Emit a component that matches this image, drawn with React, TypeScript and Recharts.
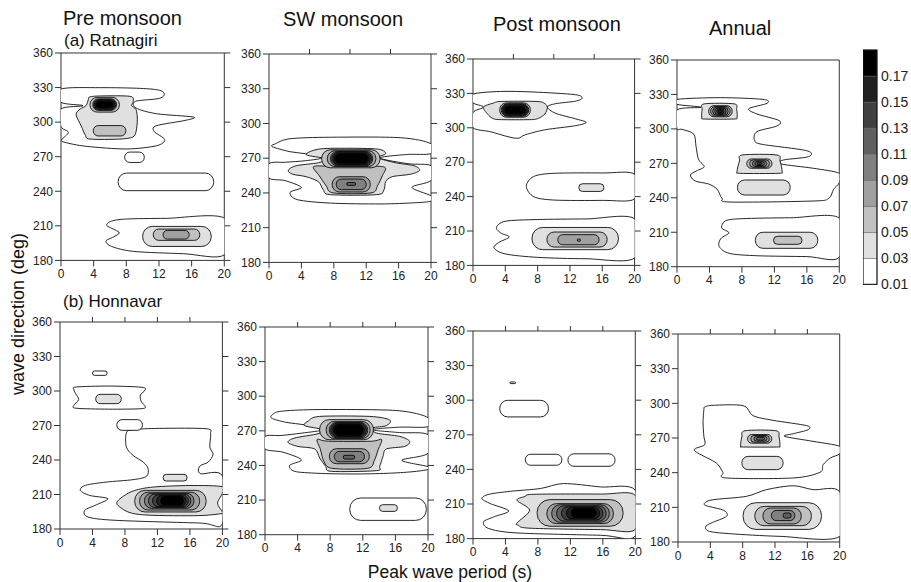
import React from 'react';
import { ScatterChart, Scatter, XAxis, YAxis } from 'recharts';

type XY = [number, number];
type Contour = { lv: number; pts: XY[] };
// [level, period from, period to, direction from, direction to]
type Ring = [number, number, number, number, number];

const periodTicks = [0, 4, 8, 12, 16, 20];
const directionTicks = [180, 210, 240, 270, 300, 330, 360];
const topTicksFive = [5, 10, 15];
const topTicksFour = [4, 8, 12, 16];
const levelTicks = [0.01, 0.03, 0.05, 0.07, 0.09, 0.11, 0.13, 0.15, 0.17];
const shades = ['#ffffff', '#e0e0e0', '#c0c0c0', '#a0a0a0', '#808080', '#606060', '#404040', '#202020', '#000000'];

// ---- (a) Ratnagiri ----
const preRatLines: Contour[] = [
  { lv: 0.01, pts: [[0, 328.7], [4.8, 329.9], [9.7, 329.3], [12.1, 327.6], [12.65, 323.8], [11.9, 320.4], [9.1, 318], [9.2, 312.2], [11.7, 307.3], [16.2, 304.4], [15.2, 301.5], [11.7, 296.9], [11.4, 292], [12.7, 284.8], [11.7, 279.5], [8.0, 276.7], [3.1, 279], [0.5, 282.4], [0.1, 284.8], [0.9, 291.1], [0, 296.3], [0, 311.4], [2.7, 314.3], [0, 317.2]] },
  { lv: 0.03, pts: [[3.06, 314.3], [3.35, 319.5], [3.5, 321.8], [4.8, 322.7], [8.45, 322.4], [8.85, 318], [8.65, 314.3], [9.2, 310.8], [9.35, 302.1], [9.2, 292], [8.8, 287.1], [7.2, 285.3], [3.55, 285.3], [2.95, 289.1], [2.5, 296.3], [1.85, 306.5], [2.35, 311.4]] },
  { lv: 0.01, pts: [[20, 216.7], [12.9, 216.5], [8.0, 215.9], [6.2, 214.1], [5.6, 210.4], [6.6, 206.6], [7.15, 203.7], [6.4, 200.2], [5.5, 196.8], [6.2, 192.1], [8.9, 187.8], [15, 185.8], [20, 184.9]] },
];
const preRatRings: Ring[] = [
  [0.01, 7.8, 10.2, 265, 274], [0.01, 7.0, 18.7, 240.5, 255.8],
  [0.05, 3.95, 7.95, 288, 297],
  [0.05, 3.55, 7.15, 308.7, 321.5], [0.07, 3.9, 6.8, 310.2, 320.2], [0.09, 4.0, 6.7, 310.8, 319.6],
  [0.11, 4.1, 6.6, 311.4, 319.0], [0.13, 4.2, 6.5, 312.0, 318.4], [0.15, 4.3, 6.4, 312.6, 317.8],
  [0.17, 4.4, 6.3, 313.2, 317.2], [0.19, 4.8, 5.9, 314.0, 316.4],
  [0.03, 10, 18.4, 192.1, 209.5], [0.05, 11.3, 17.0, 197.4, 207.2], [0.07, 12.5, 15.7, 198.5, 206.0],
];

const swRatLines: Contour[] = [
  { lv: 0.01, pts: [[20, 282.5], [16.2, 287.7], [7.6, 288.1], [2.6, 286.8], [0.8, 282.5], [0.4, 280], [2.6, 275.6], [4.5, 273.9], [6.6, 270.4], [4.5, 267.8], [2.0, 266.5], [0, 265.3], [0, 252.9], [2.0, 250.6], [4.0, 244.8], [2.6, 240.5], [3.5, 234.2], [7.6, 231.2], [13.8, 230.5], [18.0, 231.5], [20, 233], [20, 237.5], [17.65, 244.8], [20, 250.8], [20, 263.5], [17.2, 265.2], [13.7, 270.2], [17.0, 273.2], [20, 274]] },
  { lv: 0.03, pts: [[2.38, 259.6], [3.37, 263.5], [6.09, 266.1], [6.95, 269.6], [4.6, 273], [6.09, 277.8], [9.42, 278.6], [13.5, 277.8], [14.4, 273.9], [13.5, 270.4], [15.6, 266.1], [17.9, 263.5], [18.6, 259.6], [17.5, 256.2], [15.2, 254], [14.4, 249.7], [14.2, 242.8], [13.3, 238.5], [7.57, 238.5], [6.7, 242.8], [6.1, 249.7], [4.6, 254], [2.9, 256.2]] },
  { lv: 0.05, pts: [[5.5, 262.7], [7.6, 263.1], [12.75, 263.1], [14.35, 261.8], [14.0, 254.9], [13.4, 246.3], [12.6, 240], [7.95, 240], [7.05, 246.3], [6.2, 254.9]] },
];
const swRatRings: Ring[] = [
  [0.05, 6.5, 13.7, 261.7, 277.3], [0.07, 7.2, 13.2, 262.8, 276.4], [0.09, 7.6, 12.8, 263.4, 275.8],
  [0.11, 7.75, 12.65, 264.0, 275.2], [0.13, 7.9, 12.5, 264.6, 274.6], [0.15, 8.05, 12.35, 265.2, 274.0],
  [0.17, 8.2, 12.2, 265.8, 273.4], [0.19, 8.8, 11.6, 266.8, 272.4], [0.21, 9.5, 10.9, 268.0, 271.4],
  [0.07, 7.8, 12.5, 240.8, 254.0], [0.09, 8.3, 12.0, 242.8, 252.0], [0.11, 9.6, 10.7, 246.5, 249.0],
];

const postRatLines: Contour[] = [
  { lv: 0.01, pts: [[0, 329.3], [3.4, 331.7], [7.5, 331.2], [12.65, 328.9], [13.5, 325.8], [12.65, 323.2], [10.2, 321], [9.2, 318.1], [10.2, 312.7], [12.65, 307.9], [14, 304.7], [12.65, 301.8], [8.95, 298.3], [6.5, 294], [5.6, 290.9], [4.35, 292.2], [2.15, 296.6], [0, 300.1], [0, 313.2], [1.3, 318.1], [0, 321.8]] },
  { lv: 0.03, pts: [[1.3, 318.1], [2.5, 321.5], [3.5, 323], [7.8, 323], [8.8, 321.5], [9.2, 318.1], [8.9, 312], [8.0, 308], [7.0, 307.1], [3.5, 307.1], [2.5, 308], [1.8, 312]] },
  { lv: 0.01, pts: [[20, 259.5], [16, 260.6], [10, 260.3], [7.5, 257.5], [6.6, 249], [7.5, 240], [10, 237], [16, 236.7], [20, 238]] },
  { lv: 0.01, pts: [[20, 220.6], [14, 220.5], [8, 220], [4, 218.5], [2.9, 213], [3.5, 208], [4.5, 204.8], [3.2, 200], [2.6, 195.2], [4, 190], [8, 187], [14, 185.8], [20, 186.5]] },
];
const postRatRings: Ring[] = [
  [0.05, 3.3, 7.1, 309.2, 321.8], [0.07, 3.5, 6.9, 310.0, 321.0], [0.09, 3.6, 6.8, 310.6, 320.4],
  [0.11, 3.7, 6.7, 311.2, 319.8], [0.13, 3.8, 6.6, 311.8, 319.2], [0.15, 3.9, 6.5, 312.4, 318.6],
  [0.17, 4.0, 6.4, 313.0, 318.0], [0.19, 4.4, 6.0, 313.8, 317.2], [0.21, 4.8, 5.6, 314.6, 316.4],
  [0.03, 13.1, 16.2, 244.5, 251.2],
  [0.03, 7.3, 18.0, 193.7, 213.1], [0.05, 9.15, 16.6, 196.0, 209.1], [0.07, 10.5, 15.6, 198.0, 206.8],
  [0.09, 12.9, 13.3, 201, 203],
];

const annRatLines: Contour[] = [
  { lv: 0.01, pts: [[0, 325.7], [5.34, 327.2], [10.6, 325.7], [11.1, 322.3], [8.85, 317.6], [9.85, 313], [12.6, 307.2], [12.3, 302.5], [9.85, 297.6], [9.55, 290.3], [10.45, 286.6], [16, 281], [16.2, 275.8], [13.1, 272.9], [12.9, 269.4], [16.8, 265.7], [20, 261.3], [20, 253.2], [19.3, 247.4], [18.7, 239.5], [16.8, 237.2], [6.55, 236.3], [5.55, 239.5], [4.95, 247.4], [3.9, 252], [2.25, 254.6], [1.65, 259.8], [2.45, 263.6], [3.35, 267.1], [2.65, 273.5], [2.35, 284.5], [2.05, 295.6], [0.6, 299.6], [0, 300.5], [0, 316.5], [2.95, 318.8], [0, 321.4]] },
  { lv: 0.03, pts: [[3.35, 321.8], [7.05, 321.8], [7.35, 317], [7.4, 310], [7.0, 308.6], [3.4, 308.6], [3.05, 310], [3.1, 317]] },
  { lv: 0.03, pts: [[8.05, 277.3], [12.3, 277.3], [12.7, 272], [12.95, 263], [12.5, 261.3], [7.8, 261.3], [7.4, 263], [7.7, 272]] },
  { lv: 0.01, pts: [[20, 222.3], [14, 222.6], [8, 221.8], [6.0, 220], [5.5, 213.8], [6.4, 209.5], [5.4, 204.5], [5.2, 197.5], [6.5, 191.5], [10, 189.5], [16, 188.8], [20, 188.2]] },
];
const annRatRings: Ring[] = [
  [0.05, 3.9, 6.8, 310.5, 320.2], [0.07, 4.15, 6.55, 311.2, 319.5], [0.09, 4.4, 6.3, 311.9, 318.8],
  [0.11, 4.65, 6.05, 312.6, 318.1], [0.13, 4.9, 5.8, 313.3, 317.4], [0.15, 5.1, 5.6, 314.0, 316.7],
  [0.05, 8.6, 11.7, 265.7, 273.8], [0.07, 8.95, 11.4, 266.5, 273.0], [0.09, 9.3, 11.05, 267.3, 272.2],
  [0.11, 9.6, 10.75, 268.1, 271.4], [0.13, 9.9, 10.45, 268.9, 270.6],
  [0.03, 7.45, 13.95, 242.4, 255.5],
  [0.03, 9.65, 17.35, 196, 210], [0.05, 11.9, 15.4, 199.5, 206.5],
];

// ---- (b) Honnavar ----
const preHonLines: Contour[] = [
  { lv: 0.01, pts: [[2.0, 303.5], [6, 304.3], [10, 303.3], [10.5, 301], [9.9, 296.5], [10, 291], [10.5, 286.5], [10, 284.6], [6, 284.2], [2, 285], [1.7, 287.5], [2.3, 292.5], [1.9, 298], [1.7, 301.5]] },
  { lv: 0.01, pts: [[8.17, 263.5], [9, 266.4], [12.3, 267.5], [18, 267.2], [18.55, 262.9], [18.45, 251.3], [18.85, 244.9], [18.25, 238.2], [17.2, 234.5], [17.3, 228.1], [20, 226.1], [20, 184.6], [17.2, 185.2], [6.95, 187.5], [3.45, 190.4], [3.05, 196.2], [4.5, 201.1], [5.9, 206.4], [3.65, 209.2], [2.5, 213.6], [3.15, 218], [5.7, 220.8], [9, 222.9], [10.65, 225.8], [10.85, 232.4], [10.25, 238.2], [9, 244], [8.17, 251.3]] },
  { lv: 0.03, pts: [[7.0, 202], [7.8, 208.5], [9.2, 213.5], [11.5, 216.5], [16, 217.8], [20, 216.8], [20, 211], [19.4, 202.5], [20, 195], [20, 193.5], [17, 191.6], [11, 192], [8.5, 194.5]] },
];
const preHonRings: Ring[] = [
  [0.01, 4.0, 5.8, 313.6, 317.4], [0.03, 4.4, 7.55, 289, 297.1], [0.01, 7.0, 10.15, 265.8, 275.1],
  [0.03, 12.7, 15.65, 221.7, 227.5],
  [0.05, 9.2, 18.0, 194.8, 213.6], [0.07, 9.8, 17.2, 196.5, 212.0], [0.09, 10.4, 16.5, 198.0, 211.0],
  [0.11, 10.9, 16.1, 198.8, 210.3], [0.13, 11.4, 15.8, 199.5, 209.6], [0.15, 11.9, 15.5, 200.2, 208.9],
  [0.17, 12.4, 15.2, 201.0, 208.2], [0.19, 12.9, 14.8, 201.8, 207.5], [0.21, 13.3, 14.5, 202.6, 206.8],
];

const swHonLines: Contour[] = [
  { lv: 0.01, pts: [[20, 281.4], [17.5, 286.5], [14, 288.2], [6, 288.4], [2, 287], [1.0, 284.5], [0.8, 281.1], [2.5, 277.5], [5, 275], [7.1, 271], [4.5, 268], [2, 266], [0, 265.2], [0, 254.3], [2.2, 251.5], [4.47, 245], [3.03, 240.1], [3.64, 234.9], [6.5, 233.2], [10.8, 232.6], [15, 233.2], [18, 234.5], [20, 236.5], [20, 239], [16.8, 244.5], [20, 250.5], [20, 266.7], [16.5, 268.5], [13.1, 271], [16.5, 273.2], [20, 273.6]] },
  { lv: 0.03, pts: [[7.1, 271], [4.87, 274.5], [5.3, 278.5], [6.7, 282.5], [12.85, 282.5], [15.3, 279.5], [14.9, 274.5], [13.25, 272.5], [13.67, 268.1], [16.53, 265.2], [17.75, 260.9], [17.14, 256.5], [14.9, 254.3], [14.48, 247.9], [14.07, 239.2], [13.67, 235.5], [8.15, 234.9], [7.45, 239.2], [6.71, 246.5], [6.1, 254.3], [4.05, 256.5], [2.82, 260], [3.64, 263.8], [6.5, 267.5]] },
  { lv: 0.05, pts: [[6.4, 262.5], [7.8, 261], [13, 261], [14.3, 262.5], [13.9, 254], [13.4, 244], [12.6, 237.5], [8.2, 237.5], [7.2, 244], [6.8, 254]] },
];
const swHonRings: Ring[] = [
  [0.05, 6.7, 13.3, 262.3, 279.7], [0.07, 7.5, 12.9, 263.3, 278.2], [0.09, 7.9, 12.6, 264, 277.3],
  [0.11, 8.05, 12.45, 264.6, 276.7], [0.13, 8.2, 12.3, 265.2, 276.1], [0.15, 8.35, 12.15, 265.8, 275.5],
  [0.17, 8.5, 12.0, 266.4, 274.9], [0.19, 9.1, 11.4, 267.4, 273.9], [0.21, 9.8, 10.7, 268.6, 272.7],
  [0.07, 7.9, 12.8, 241.5, 254.5], [0.09, 8.5, 12.2, 243.2, 252.2], [0.11, 9.6, 11.0, 245.5, 248.8],
  [0.01, 10.4, 19.8, 192.4, 211.8], [0.03, 14.05, 16.25, 200.2, 206],
];

const postHonLines: Contour[] = [
  { lv: 0.01, pts: [[20, 221.9], [15.7, 224.8], [11.15, 227.7], [8.3, 223.4], [4.6, 221], [1.95, 218.4], [1.1, 214.7], [2.15, 210.3], [4.4, 204], [2.55, 198.8], [1.3, 194.5], [1.95, 188.7], [5.4, 184.9], [15.7, 182.9], [20, 182.3]] },
  { lv: 0.03, pts: [[5.42, 213.2], [6.4, 216.5], [7.5, 218.4], [15.7, 218.6], [20, 217.5], [20, 188], [15.7, 187.8], [7, 189], [5.6, 191.5], [5.42, 193.6], [6.98, 204.6]] },
];
const postHonRings: Ring[] = [
  [0.01, 4.55, 5.25, 314.4, 315.8], [0.01, 3.3, 9.3, 285.5, 299.9],
  [0.01, 6.45, 10.95, 243.6, 253.1], [0.01, 11.7, 17.5, 242.7, 253.5],
  [0.05, 7.9, 18.5, 190.7, 213.8], [0.07, 9.1, 17.3, 193.0, 210.3], [0.09, 9.7, 16.8, 194.2, 209.3],
  [0.11, 10.3, 16.4, 195.2, 208.4], [0.13, 10.9, 16.0, 196.2, 207.6], [0.15, 11.5, 15.6, 197.2, 206.8],
  [0.17, 12.1, 15.2, 198.2, 206.0], [0.19, 12.7, 14.6, 199.4, 205.0],
];

const annHonLines: Contour[] = [
  { lv: 0.01, pts: [[3.3, 296.8], [4.35, 298.3], [8.05, 298], [9.3, 289.3], [11.75, 285.3], [15.9, 280.7], [16.1, 277.2], [14.25, 273.7], [13.2, 271.4], [16.7, 267.1], [20, 262.8], [20, 256.4], [18.85, 252.7], [17.95, 246.9], [17.55, 240.3], [14.25, 235.4], [6, 235.4], [5.55, 240.3], [4.75, 248.3], [2.45, 257], [2.05, 260.5], [3.3, 264.2], [3.2, 271.4], [3.1, 283], [3.2, 294.5]] },
  { lv: 0.01, pts: [[20, 223.3], [16.7, 225.3], [14.25, 228.7], [10.95, 225.3], [8.45, 219.5], [4.35, 216.6], [3.3, 213.7], [3.5, 211.4], [5.65, 207.4], [6.0, 202.2], [4.1, 196.4], [3.4, 193], [3.9, 189.2], [6.4, 187.2], [12.6, 184.9], [20, 184.9]] },
  { lv: 0.03, pts: [[8.3, 276.3], [12.1, 276.3], [12.5, 271], [12.6, 263], [12.2, 262.2], [8.1, 262.2], [7.75, 263], [7.9, 271]] },
];
const annHonRings: Ring[] = [
  [0.03, 7.9, 13.0, 242.6, 254.1],
  [0.05, 8.6, 11.6, 265.5, 273], [0.07, 9.0, 11.3, 266.4, 272.2], [0.09, 9.4, 11.0, 267.3, 271.4],
  [0.11, 9.7, 10.7, 268.2, 270.6],
  [0.03, 8.05, 17.75, 190.9, 214.0], [0.05, 9.5, 16.5, 194.1, 210.8], [0.07, 10.5, 15.25, 195.6, 209.4],
  [0.09, 11.55, 14.45, 198.5, 207.3], [0.11, 13.0, 14.0, 200.7, 205.1],
];

const FONT = '"Liberation Sans", Arial, Helvetica, sans-serif';
const AXIS = '#333';
const ML = 36, MT = 8, MR = 8, MB = 24;

// plot frame in page pixels: left, top, right, bottom
const panels = [
  { box: [61, 53.3, 224.3, 260.7], lines: preRatLines, rings: preRatRings, top: null, right: true },
  { box: [268.7, 54.3, 430.7, 262.7], lines: swRatLines, rings: swRatRings, top: topTicksFive, right: true },
  { box: [472.7, 59.3, 634.3, 265.7], lines: postRatLines, rings: postRatRings, top: topTicksFive, right: true },
  { box: [676.7, 60, 839, 266.7], lines: annRatLines, rings: annRatRings, top: null, right: false },
  { box: [60.3, 321.7, 222.7, 528.7], lines: preHonLines, rings: preHonRings, top: topTicksFour, right: true },
  { box: [265.3, 327.3, 428.3, 535], lines: swHonLines, rings: swHonRings, top: topTicksFour, right: true },
  { box: [472.7, 330.7, 635, 538.3], lines: postHonLines, rings: postHonRings, top: topTicksFour, right: true },
  { box: [678.3, 334.3, 840, 542.3], lines: annHonLines, rings: annHonRings, top: topTicksFour, right: false },
];

const shadeOf = (lv: number) => shades[Math.max(0, Math.min(8, Math.round((lv - 0.01) / 0.02)))];
const noDot = () => <g />;
const blank = () => '';

// smooth closed curve through the projected contour vertices
function closedPath(p: { x: number; y: number }[], k = 0.15) {
  const n = p.length;
  let d = `M${p[0].x},${p[0].y}`;
  for (let i = 0; i < n; i++) {
    const p0 = p[(i - 1 + n) % n], p1 = p[i], p2 = p[(i + 1) % n], p3 = p[(i + 2) % n];
    const c1x = p1.x + (p2.x - p0.x) * k, c1y = p1.y + (p2.y - p0.y) * k;
    const c2x = p2.x - (p3.x - p1.x) * k, c2y = p2.y - (p3.y - p1.y) * k;
    d += `C${c1x},${c1y} ${c2x},${c2y} ${p2.x},${p2.y}`;
  }
  return d + 'Z';
}

// rounded box spanned by two projected corners
function ringRect(p: { x: number; y: number }[], fill: string, stroke: string, sw: number, round = 0.48) {
  const x = Math.min(p[0].x, p[1].x), y = Math.min(p[0].y, p[1].y);
  const w = Math.abs(p[1].x - p[0].x), h = Math.abs(p[1].y - p[0].y);
  const r = Math.min(w, h) * round;
  return <rect x={x} y={y} width={w} height={h} rx={r} ry={r} fill={fill} stroke={stroke} strokeWidth={sw} />;
}

type PanelProps = { box: number[]; lines: Contour[]; rings: Ring[]; top: number[] | null; right: boolean };

function Panel({ box, lines, rings, top, right }: PanelProps) {
  const [l, t, r, b] = box;
  const w = r - l + ML + MR, h = b - t + MT + MB;
  const items = [
    ...lines.map((c, i) => ({ lv: c.lv, ring: false, data: c.pts.map(([x, y]) => ({ x, y })), key: `c${i}` })),
    ...rings.map((g, i) => ({ lv: g[0], ring: true, data: [{ x: g[1], y: g[3] }, { x: g[2], y: g[4] }], key: `r${i}` })),
  ].sort((a, z) => a.lv - z.lv);
  const tickStyle = { fontSize: 12, fill: '#222', fontFamily: FONT };
  return (
    <div style={{ position: 'absolute', left: l - ML, top: t - MT }}>
      <ScatterChart width={w} height={h} margin={{ top: 0, right: 0, bottom: 0, left: 0 }}>
        <XAxis type="number" dataKey="x" domain={[0, 20]} ticks={periodTicks} allowDataOverflow
          height={MB} tickSize={6} tickMargin={3} stroke={AXIS} tick={tickStyle} interval={0} />
        <XAxis xAxisId="top" orientation="top" type="number" dataKey="x" domain={[0, 20]} allowDataOverflow
          ticks={top ?? [0, 20]} tickLine={!!top} tickFormatter={blank} tickSize={5} height={MT} stroke={AXIS} />
        <YAxis type="number" dataKey="y" domain={[180, 360]} ticks={directionTicks} allowDataOverflow
          width={ML} tickSize={6} tickMargin={2} stroke={AXIS} tick={tickStyle} interval={0} />
        <YAxis yAxisId="right" orientation="right" type="number" dataKey="y" domain={[180, 360]} allowDataOverflow
          ticks={directionTicks} tickLine={right} tickFormatter={blank} tickSize={6} width={MR} stroke={AXIS} />
        {items.map((it) => (
          <Scatter key={it.key} data={it.data} shape={noDot} isAnimationActive={false}
            line={(lp: any) => it.ring
              ? ringRect(lp.points, shadeOf(it.lv), '#000', 0.85)
              : <path d={closedPath(lp.points)} fill={shadeOf(it.lv)} stroke="#000" strokeWidth={0.85} />} />
        ))}
      </ScatterChart>
    </div>
  );
}

function ColorBar() {
  const bands = levelTicks.map((lo) => ({ lo, hi: lo + 0.02 }));
  return (
    <div style={{ position: 'absolute', left: 862.7, top: 42 }}>
      <ScatterChart width={54} height={250.3} margin={{ top: 8, right: 0, bottom: 8, left: 0 }}>
        <XAxis type="number" dataKey="x" domain={[0, 1]} hide />
        <YAxis type="number" dataKey="y" orientation="right" domain={[0.01, 0.19]} ticks={levelTicks}
          width={40} axisLine={false} tickLine={false} tickSize={0} tickMargin={4} interval={0}
          tick={{ fontSize: 14, fill: '#222', fontFamily: FONT }} />
        {bands.map((bd) => (
          <Scatter key={bd.lo} data={[{ x: 0, y: bd.lo }, { x: 1, y: bd.hi }]} shape={noDot} isAnimationActive={false}
            line={(lp: any) => ringRect(lp.points, shadeOf(bd.lo), '#666', 0.5, 0)} />
        ))}
        <Scatter data={[{ x: 0, y: 0.01 }, { x: 1, y: 0.19 }]} shape={noDot} isAnimationActive={false}
          line={(lp: any) => ringRect(lp.points, 'none', '#000', 1, 0)} />
      </ScatterChart>
    </div>
  );
}

export default function App() {
  return (
    <div style={{ position: 'absolute', left: 0, top: 0, width: 911, height: 582, background: '#fff', fontFamily: FONT }}>
      <svg width={911} height={582} style={{ position: 'absolute', left: 0, top: 0 }}>
        <g fontFamily={FONT} fill="#111">
          <text x={63} y={25} fontSize={20}>Pre monsoon</text>
          <text x={283} y={26} fontSize={20}>SW monsoon</text>
          <text x={493} y={31} fontSize={20}>Post monsoon</text>
          <text x={709} y={35} fontSize={20}>Annual</text>
          <text x={64} y={46} fontSize={17}>(a) Ratnagiri</text>
          <text x={63} y={307} fontSize={17}>(b) Honnavar</text>
          <text x={450} y={578} fontSize={17.5} textAnchor="middle">Peak wave period (s)</text>
          <text x={24} y={314} fontSize={18} textAnchor="middle" transform="rotate(-90 24 314)">wave direction (deg)</text>
        </g>
      </svg>
      {panels.map((p, i) => (
        <Panel key={i} box={p.box} lines={p.lines} rings={p.rings} top={p.top} right={p.right} />
      ))}
      <ColorBar />
    </div>
  );
}
